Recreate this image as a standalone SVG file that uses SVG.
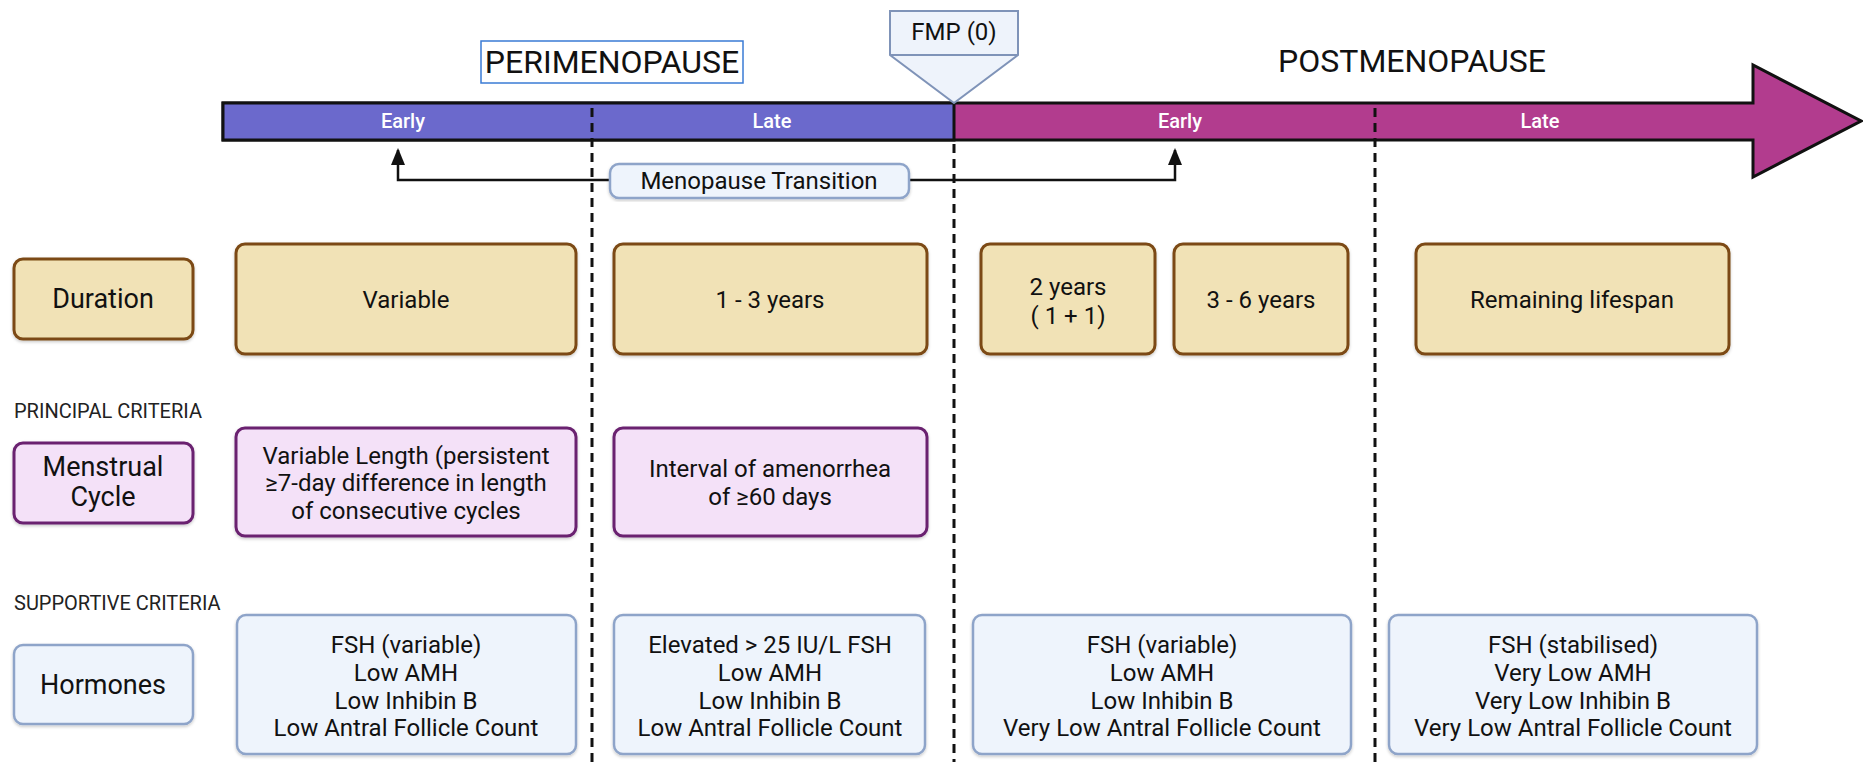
<svg xmlns="http://www.w3.org/2000/svg" width="1863" height="766" viewBox="0 0 1863 766">
  <defs>
    <filter id="soft" x="-5%" y="-5%" width="110%" height="115%">
      <feDropShadow dx="0" dy="1.5" stdDeviation="1.5" flood-color="#000" flood-opacity="0.22"/>
    </filter>
    <marker id="head" viewBox="0 0 17 14" refX="15" refY="7" markerWidth="17" markerHeight="14" markerUnits="userSpaceOnUse" orient="auto">
      <path d="M0,0 L17,7 L0,14 Z" fill="#111"/>
    </marker>
    <style>
      text { font-family: Roboto, "Liberation Sans", Arial, sans-serif; fill: #111; }
      .title { font-size: 32px; text-anchor: middle; dominant-baseline: central; }
      .phase { font-size: 20px; font-weight: 500; fill: #fff; text-anchor: middle; dominant-baseline: central; }
      .crit { font-size: 20px; fill: #222; dominant-baseline: central; }
      .lbl { font-size: 27px; text-anchor: middle; dominant-baseline: central; }
      .txt { font-size: 24px; text-anchor: middle; dominant-baseline: central; }
      .dur { fill: #f1e2b6; stroke: #7b4a12; stroke-width: 3; filter: url(#soft); }
      .men { fill: #f4e1f8; stroke: #6a2070; stroke-width: 3; filter: url(#soft); }
      .hor { fill: #eef4fc; stroke: #8ea4c9; stroke-width: 2.5; filter: url(#soft); }
      .divider { stroke: #111; stroke-width: 3; stroke-dasharray: 9 6; fill: none; }
      .link { stroke: #111; stroke-width: 2.5; fill: none; }
    </style>
  </defs>

  <!-- timeline arrow -->
  <g id="timeline">
    <path d="M223,103 L1753,103 L1753,65 L1861,121 L1753,177 L1753,140 L223,140 Z" fill="#b23c8e" stroke="#111" stroke-width="3" stroke-linejoin="miter"/>
    <rect x="223" y="103" width="731" height="37" fill="#6b69cc" stroke="#111" stroke-width="3"/>
    <text class="phase" x="403" y="121">Early</text>
    <text class="phase" x="772" y="121">Late</text>
    <text class="phase" x="1180" y="121">Early</text>
    <text class="phase" x="1540" y="121">Late</text>
  </g>

  <!-- phase dividers -->
  <g id="dividers">
    <line class="divider" x1="592" y1="108" x2="592" y2="762"/>
    <line class="divider" x1="954" y1="144" x2="954" y2="762"/>
    <line class="divider" x1="1375" y1="108" x2="1375" y2="762"/>
  </g>

  <g id="perimenopause">
    <rect x="481" y="41" width="262" height="42" fill="#fff" stroke="#3a7bd5" stroke-width="1.5"/>
    <text class="title" x="612" y="62">PERIMENOPAUSE</text>
  </g>
  <g id="postmenopause">
    <text class="title" x="1412" y="61">POSTMENOPAUSE</text>
  </g>

  <g id="fmp">
    <path d="M890,11 L1018,11 L1018,55 L954,103 L890,55 Z" fill="#eef3fb" stroke="#7f93b8" stroke-width="2" stroke-linejoin="miter"/>
    <line x1="890" y1="55" x2="1018" y2="55" stroke="#7f93b8" stroke-width="2"/>
    <text class="txt" x="954" y="32">FMP (0)</text>
  </g>

  <!-- menopause transition span -->
  <g id="connectors">
    <path class="link" d="M610,180 L398,180 L398,150" marker-end="url(#head)"/>
    <path class="link" d="M909,180 L1175,180 L1175,150" marker-end="url(#head)"/>
  </g>
  <g id="menopause-transition">
    <rect class="hor" x="610" y="164" width="299" height="34" rx="9"/>
    <text class="txt" x="759" y="181">Menopause Transition</text>
  </g>

  <!-- duration row -->
  <g id="duration-label">
    <rect class="dur" x="14" y="259" width="179" height="80" rx="9"/>
    <text class="lbl" x="103" y="299">Duration</text>
  </g>
  <g id="duration-early-peri">
    <rect class="dur" x="236" y="244" width="340" height="110" rx="9"/>
    <text class="txt" x="406" y="300">Variable</text>
  </g>
  <g id="duration-late-peri">
    <rect class="dur" x="614" y="244" width="313" height="110" rx="9"/>
    <text class="txt" x="770" y="300">1 - 3 years</text>
  </g>
  <g id="duration-early-post-a">
    <rect class="dur" x="981" y="244" width="174" height="110" rx="9"/>
    <text class="txt" x="1068" y="287">2 years</text>
    <text class="txt" x="1068" y="316">( 1 + 1)</text>
  </g>
  <g id="duration-early-post-b">
    <rect class="dur" x="1174" y="244" width="174" height="110" rx="9"/>
    <text class="txt" x="1261" y="300">3 - 6 years</text>
  </g>
  <g id="duration-late-post">
    <rect class="dur" x="1416" y="244" width="313" height="110" rx="9"/>
    <text class="txt" x="1572" y="300">Remaining lifespan</text>
  </g>

  <!-- principal criteria -->
  <text class="crit" x="14" y="411">PRINCIPAL CRITERIA</text>
  <g id="cycle-label">
    <rect class="men" x="14" y="443" width="179" height="80" rx="9"/>
    <text class="lbl" x="103" y="467">Menstrual</text>
    <text class="lbl" x="103" y="497">Cycle</text>
  </g>
  <g id="cycle-early-peri">
    <rect class="men" x="236" y="428" width="340" height="108" rx="9"/>
    <text class="txt" x="406" y="456">Variable Length (persistent</text>
    <text class="txt" x="406" y="483">≥7-day difference in length</text>
    <text class="txt" x="406" y="511">of consecutive cycles</text>
  </g>
  <g id="cycle-late-peri">
    <rect class="men" x="614" y="428" width="313" height="108" rx="9"/>
    <text class="txt" x="770" y="469">Interval of amenorrhea</text>
    <text class="txt" x="770" y="497">of ≥60 days</text>
  </g>

  <!-- supportive criteria -->
  <text class="crit" x="14" y="603">SUPPORTIVE CRITERIA</text>
  <g id="hormones-label">
    <rect class="hor" x="14" y="645" width="179" height="79" rx="9"/>
    <text class="lbl" x="103" y="685">Hormones</text>
  </g>
  <g id="hormones-early-peri">
    <rect class="hor" x="237" y="615" width="339" height="139" rx="9"/>
    <text class="txt" x="406" y="645">FSH (variable)</text>
    <text class="txt" x="406" y="673">Low AMH</text>
    <text class="txt" x="406" y="701">Low Inhibin B</text>
    <text class="txt" x="406" y="728">Low Antral Follicle Count</text>
  </g>
  <g id="hormones-late-peri">
    <rect class="hor" x="614" y="615" width="311" height="139" rx="9"/>
    <text class="txt" x="770" y="645">Elevated &gt; 25 IU/L FSH</text>
    <text class="txt" x="770" y="673">Low AMH</text>
    <text class="txt" x="770" y="701">Low Inhibin B</text>
    <text class="txt" x="770" y="728">Low Antral Follicle Count</text>
  </g>
  <g id="hormones-early-post">
    <rect class="hor" x="973" y="615" width="378" height="139" rx="9"/>
    <text class="txt" x="1162" y="645">FSH (variable)</text>
    <text class="txt" x="1162" y="673">Low AMH</text>
    <text class="txt" x="1162" y="701">Low Inhibin B</text>
    <text class="txt" x="1162" y="728">Very Low Antral Follicle Count</text>
  </g>
  <g id="hormones-late-post">
    <rect class="hor" x="1389" y="615" width="368" height="139" rx="9"/>
    <text class="txt" x="1573" y="645">FSH (stabilised)</text>
    <text class="txt" x="1573" y="673">Very Low AMH</text>
    <text class="txt" x="1573" y="701">Very Low Inhibin B</text>
    <text class="txt" x="1573" y="728">Very Low Antral Follicle Count</text>
  </g>
</svg>
